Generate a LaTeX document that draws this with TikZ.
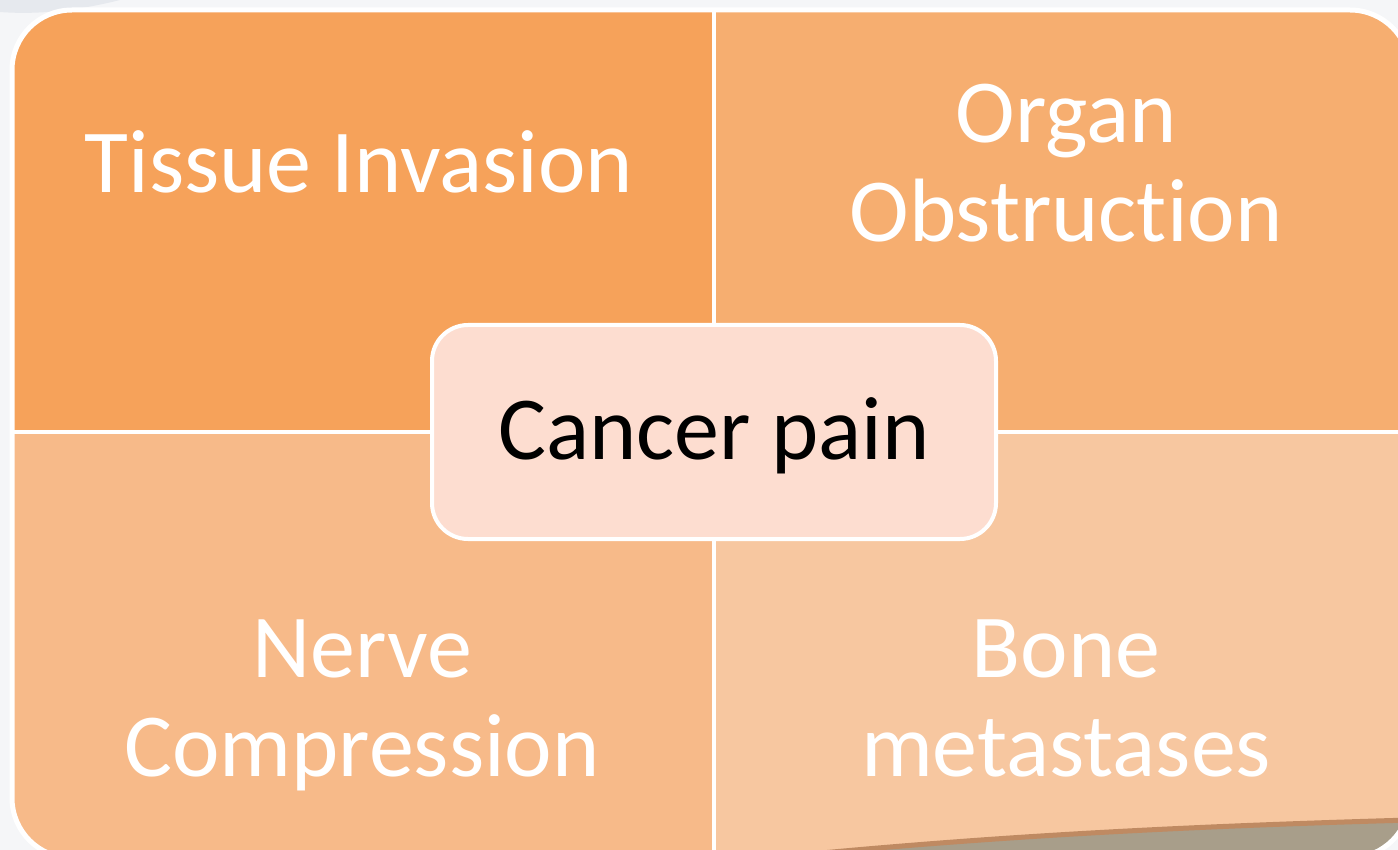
\documentclass[tikz,border=0pt]{standalone}
\usepackage{fontspec}
\setmainfont{Carlito}[Ligatures=NoCommon]
\definecolor{bgc}{HTML}{F5F6F8}
\definecolor{tlc}{HTML}{F6A25A}
\definecolor{trc}{HTML}{F6AE70}
\definecolor{blc}{HTML}{F7BA89}
\definecolor{brc}{HTML}{F7C7A0}
\definecolor{midc}{HTML}{FDDDD0}
\definecolor{bandbrown}{HTML}{BF8A62}
\definecolor{bandgray}{HTML}{A89E8A}
\definecolor{topgray}{HTML}{E6E9EE}
\begin{document}
\begin{tikzpicture}[x=1pt,y=-1pt,
  qtext/.style={text=white, font=\fontsize{90}{99}\selectfont, inner sep=0pt, anchor=base, align=center},
  centerbox/.style={draw=white, line width=4pt, fill=midc, rounded corners=36pt,
    minimum width=564pt, minimum height=214pt, inner sep=0pt,
    font=\fontsize{90}{99}\selectfont, text=black, text height=70pt, text depth=15pt}]
\useasboundingbox (0,0) rectangle (1398,850);
\fill[bgc] (0,0) rectangle (1398,850);
\fill[topgray] (0,0) -- (120,0) .. controls (80,10) and (40,15) .. (0,12) -- cycle;
\begin{scope}
  \clip[rounded corners=60pt] (12,10) rectangle (1410,858);
  \fill[tlc] (12,10) rectangle (714,432);
  \fill[trc] (714,10) rectangle (1410,432);
  \fill[blc] (12,432) rectangle (714,858);
  \fill[brc] (714,432) rectangle (1410,858);
  \fill[bandgray] (770,858) .. controls (1000,835) and (1200,826) .. (1410,820) -- (1410,858) -- cycle;
  \draw[bandbrown, line width=5pt] (770,858) .. controls (1000,835) and (1200,826) .. (1410,820);
  \draw[white, line width=4pt] (714,10) -- (714,858);
  \draw[white, line width=4pt] (12,432) -- (1410,432);
\end{scope}
\draw[white, line width=5pt, rounded corners=60pt] (12,10) rectangle (1410,858);
\node[qtext] (tissue) at (359,193) {Tissue Invasion};
\node[qtext] (organ) at (1066,242) {Organ\\Obstruction};
\node[qtext] (nerve) at (362,776) {Nerve\\Compression};
\node[qtext] (bone) at (1066,776) {Bone\\metastases};
\node[centerbox] (cancer) at (714,432) {Cancer pain};
\end{tikzpicture}
\end{document}
